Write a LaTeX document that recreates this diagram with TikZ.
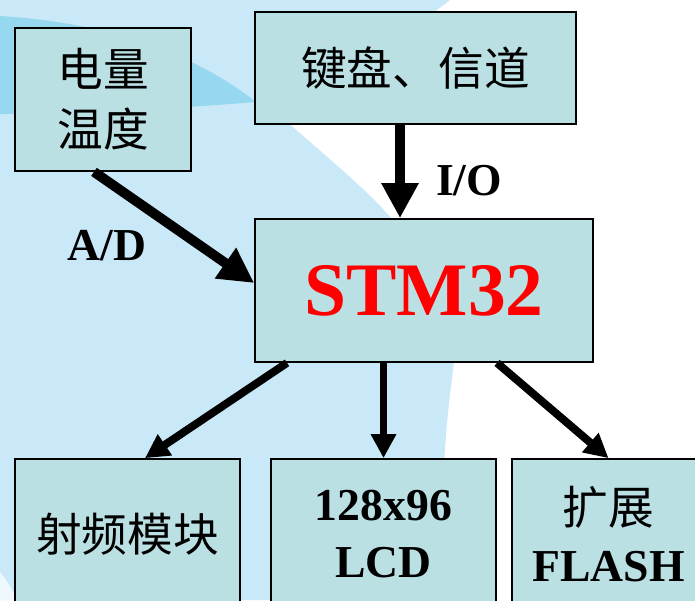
\documentclass[tikz,border=0pt]{standalone}
\usepackage{fontspec}
\setmainfont{Liberation Serif}
\newfontfamily\cjk{Noto Sans CJK SC}
\usetikzlibrary{arrows.meta, positioning}
\definecolor{boxfill}{RGB}{187,224,228}
\definecolor{bgblue}{RGB}{201,233,248}
\definecolor{bandcyan}{RGB}{150,216,240}
\definecolor{stmred}{RGB}{255,0,0}

\begin{document}
\begin{tikzpicture}[
  x=0.02cm, y=-0.02cm,
  blk/.style={rectangle, draw, line width=1pt, fill=boxfill, inner sep=0pt, align=center},
  zh/.style={font=\cjk\fontsize{26}{34}\selectfont},
  en/.style={font=\bfseries\fontsize{26}{32}\selectfont},
  bigarr/.style={-{Triangle[length=0.7cm,width=0.7cm]}, line width=5.6pt},
  arr/.style={-{Triangle[length=0.48cm,width=0.48cm]}, line width=4.5pt}
]
  \clip (0,0) rectangle (695,600);
  % background swirl
  \fill[white] (0,0) rectangle (695,600);
  \fill[bgblue] (0,0) -- (450,0) .. controls (400,40) and (300,90) .. (285,120)
    .. controls (330,160) and (380,200) .. (400,230)
    .. controls (445,290) and (458,340) .. (453,370)
    .. controls (448,410) and (442,450) .. (440,600) -- (0,600) -- cycle;
  \fill[bandcyan] (0,16) .. controls (100,22) and (190,50) .. (256,102)
    .. controls (180,108) and (90,114) .. (0,114) -- cycle;
  \fill[white!70!bgblue] (0,572) .. controls (8,582) and (14,592) .. (17,600) -- (0,600) -- cycle;

  % boxes
  \node[blk, zh, minimum width=3.52cm, minimum height=2.86cm] (sens) at (103,99.5) {电量\\温度};
  \node[blk, zh, minimum width=6.42cm, minimum height=2.24cm] (key) at (415.5,68) {键盘、信道};
  \node[blk, minimum width=6.76cm, minimum height=2.86cm, text=stmred,
        font=\bfseries\fontsize{43}{48}\selectfont] (mcu) at (424,290.5) {STM32};
  \node[blk, zh, minimum width=4.5cm, minimum height=3cm] (rf) at (127.5,534) {射频模块};
  \node[blk, en, minimum width=4.5cm, minimum height=3cm] (lcd) at (383.5,534) {128x96\\LCD};
  \node[blk, minimum width=3.86cm, minimum height=3cm,
        font=\fontsize{26}{32}\selectfont] (flash) at (608.5,534) {{\cjk 扩展}\\\textbf{FLASH}};

  % labels
  \node[en] (ad) at (107,246) {A/D};
  \node[en] (io) at (469,181) {I/O};

  % arrows
  \draw[bigarr] ([xshift=-0.18cm]sens.south) -- ([yshift=0.15cm]mcu.west);
  \draw[bigarr] ([xshift=-0.31cm]key.south) -- ([xshift=-0.31cm]key.south |- mcu.north);
  \draw[arr] ([xshift=-2.74cm]mcu.south) -- ([xshift=0.35cm]rf.north);
  \draw[arr] (lcd.north |- mcu.south) -- (lcd.north);
  \draw[arr] ([xshift=1.46cm]mcu.south) -- (flash.north);
\end{tikzpicture}
\end{document}
